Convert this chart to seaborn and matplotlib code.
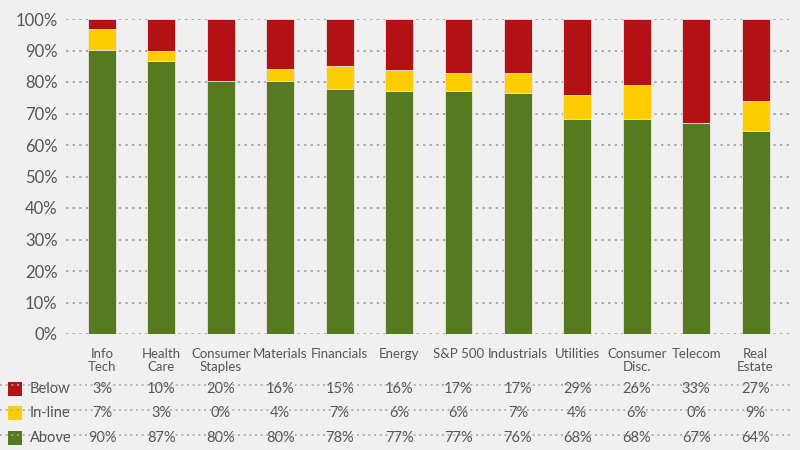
import matplotlib
matplotlib.use("Agg")
import matplotlib.pyplot as plt
import matplotlib.transforms as mtransforms
import seaborn as sns
import pandas as pd

categories = ["Info\nTech", "Health\nCare", "Consumer\nStaples", "Materials", "Financials",
              "Energy", "S&P 500", "Industrials", "Utilities", "Consumer\nDisc.", "Telecom",
              "Real\nEstate"]
# bar heights as drawn in the chart (%)
above_bar = [90.2, 86.7, 80.3, 80.3, 77.8, 77.1, 77.1, 76.5, 68.3, 68.3, 67.1, 64.5]
inline_bar = [6.6, 3.1, 0.0, 3.8, 7.2, 6.7, 5.8, 6.4, 7.7, 10.7, 0.0, 9.5]
below_bar = [3.2, 10.2, 19.7, 15.9, 15.0, 16.2, 17.1, 17.1, 24.0, 21.0, 32.9, 26.0]
# table labels
below_lbl = ["3%", "10%", "20%", "16%", "15%", "16%", "17%", "17%", "29%", "26%", "33%", "27%"]
inline_lbl = ["7%", "3%", "0%", "4%", "7%", "6%", "6%", "7%", "4%", "6%", "0%", "9%"]
above_lbl = ["90%", "87%", "80%", "80%", "78%", "77%", "77%", "76%", "68%", "68%", "67%", "64%"]
row_names = ["Below", "In-line", "Above"]
yticks = [0, 10, 20, 30, 40, 50, 60, 70, 80, 90, 100]

RED, YEL, GRN = "#b31114", "#ffcc00", "#567a1f"
BG = "#f0f0f0"
TXT = "#555555"

sns.set_theme(style="white")
plt.rcParams["font.family"] = ["Lato", "DejaVu Sans"]

df = pd.DataFrame({"cat": categories, "above": above_bar, "inline": inline_bar, "below": below_bar})
df["top_inline"] = df["above"] + df["inline"]
df["top_below"] = df["top_inline"] + df["below"]

W, H = 800, 450
fig = plt.figure(figsize=(8, 4.5), dpi=100, facecolor=BG)
ax = fig.add_axes([66 / W, 1 - 334 / H, (790 - 66) / W, (334 - 19) / H])
ax.set_facecolor(BG)

# gridlines
for t in yticks:
    ax.axhline(t, color="#a8a8a8", linestyle=(0, (1.2, 2.2)), linewidth=1.4, zorder=0)

kw = dict(ax=ax, x="cat", order=categories, width=0.47, edgecolor="#e8e8e8", linewidth=0.6, zorder=2)
sns.barplot(data=df, y="top_below", color=RED, saturation=1, **kw)
sns.barplot(data=df, y="top_inline", color=YEL, saturation=1, **kw)
sns.barplot(data=df, y="above", color=GRN, saturation=1, **kw)

ax.set_xlim(-0.606, 11.58)
ax.set_ylim(0, 100)
ax.set_yticks(yticks)
ax.set_yticklabels([f"{t}%" for t in yticks], fontsize=12, color=TXT)
ax.tick_params(axis="y", length=0, pad=6)
ax.tick_params(axis="x", length=0, pad=10)
ax.set_xticks(range(len(categories)))
ax.set_xticklabels(categories, fontsize=9.5, color=TXT, linespacing=1.15, va="top")
ax.set_xlabel("")
ax.set_ylabel("")
for s in ax.spines.values():
    s.set_visible(False)

# table
tr = mtransforms.blended_transform_factory(ax.transData, fig.transFigure)
for yp in [385, 410, 435]:
    fig.add_artist(plt.Line2D([0, 790 / W], [1 - yp / H, 1 - yp / H], transform=fig.transFigure,
                              color="#a8a8a8", linestyle=(0, (1.2, 2.2)), linewidth=1.2))
rows = [(below_lbl, RED, 389), (inline_lbl, YEL, 413), (above_lbl, GRN, 438)]
for (labels, col, yp), name in zip(rows, row_names):
    fig.add_artist(plt.Rectangle((8 / W, 1 - (yp + 7) / H), 14 / W, 14 / H, transform=fig.transFigure,
                                 facecolor=col, edgecolor="none"))
    fig.text(30 / W, 1 - yp / H, name, fontsize=10.5, color=TXT, va="center", ha="left")
    for i, lab in enumerate(labels):
        ax.text(i, 1 - yp / H, lab, transform=tr, fontsize=10.5, color=TXT, ha="center", va="center")

fig.savefig("out.png", dpi=100, facecolor=BG)
